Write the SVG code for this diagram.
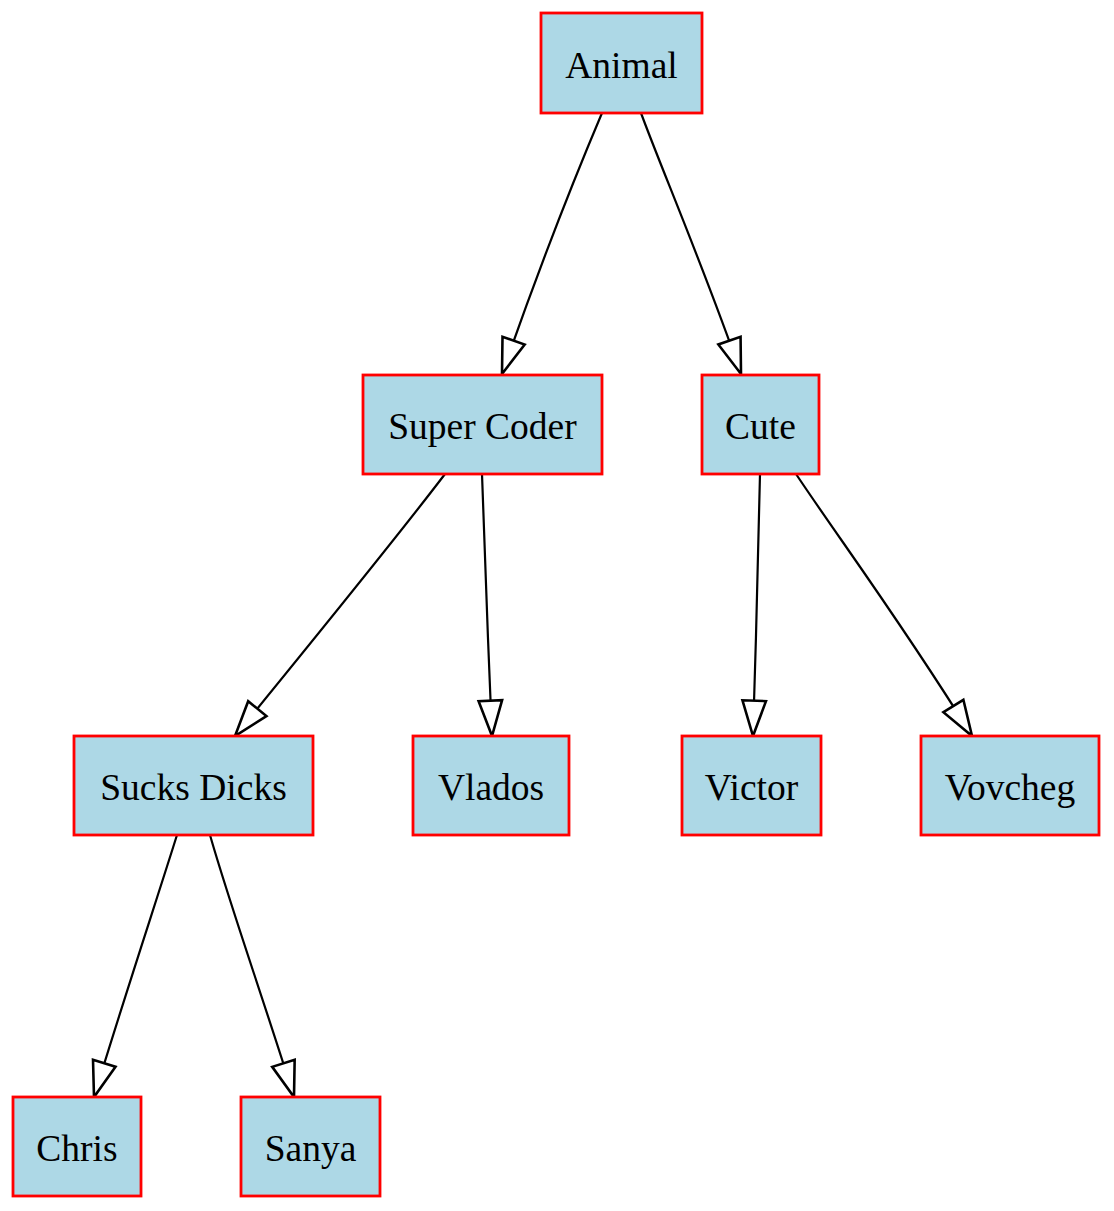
<svg xmlns="http://www.w3.org/2000/svg" width="1114" height="1211" viewBox="0 0 1114 1211">
<style>
.node rect{fill:#add8e6;stroke:#ff0000;stroke-width:2.8}
.node text{font-family:"Liberation Serif","Times New Roman",serif;font-size:37.5px;fill:#000;text-anchor:middle}
.edge{fill:none;stroke:#000;stroke-width:2.2;marker-end:url(#arr)}
</style>
<defs>
<marker id="arr" markerUnits="userSpaceOnUse" markerWidth="40" markerHeight="30" viewBox="-2 -12 34 24" refX="30" refY="0" orient="auto">
<path d="M0,-10 L30,0 L0,10 Z" fill="#fff" stroke="#000" stroke-width="2.2"/>
</marker>
</defs>
<rect width="1114" height="1211" fill="#fff"/>
<g id="edges">
<path class="edge" d="M602,113 C580,165 540,265 502,374"/>
<path class="edge" d="M641,113 C660,165 705,270 741,374"/>
<path class="edge" d="M445,474 C410,520 350,595 235,736"/>
<path class="edge" d="M482,474 C485,550 488,650 492,736"/>
<path class="edge" d="M760,474 C758,550 756,650 753,736"/>
<path class="edge" d="M796,474 C840,540 900,620 972,736"/>
<path class="edge" d="M177,835 C155,905 125,995 94,1097"/>
<path class="edge" d="M210,835 C230,905 262,995 294,1097"/>
</g>
<g id="node-animal" class="node"><rect x="541" y="13" width="161" height="100"/><text x="621.5" y="78">Animal</text></g>
<g id="node-supercoder" class="node"><rect x="363" y="375" width="239" height="99"/><text x="482.5" y="439">Super Coder</text></g>
<g id="node-cute" class="node"><rect x="702" y="375" width="117" height="99"/><text x="760.5" y="439">Cute</text></g>
<g id="node-sucksdicks" class="node"><rect x="74" y="736" width="239" height="99"/><text x="193.5" y="800">Sucks Dicks</text></g>
<g id="node-vlados" class="node"><rect x="413" y="736" width="156" height="99"/><text x="491" y="800">Vlados</text></g>
<g id="node-victor" class="node"><rect x="682" y="736" width="139" height="99"/><text x="751.5" y="800">Victor</text></g>
<g id="node-vovcheg" class="node"><rect x="921" y="736" width="178" height="99"/><text x="1010" y="800">Vovcheg</text></g>
<g id="node-chris" class="node"><rect x="13" y="1097" width="128" height="99"/><text x="77" y="1161">Chris</text></g>
<g id="node-sanya" class="node"><rect x="241" y="1097" width="139" height="99"/><text x="310.5" y="1161">Sanya</text></g>
</svg>
